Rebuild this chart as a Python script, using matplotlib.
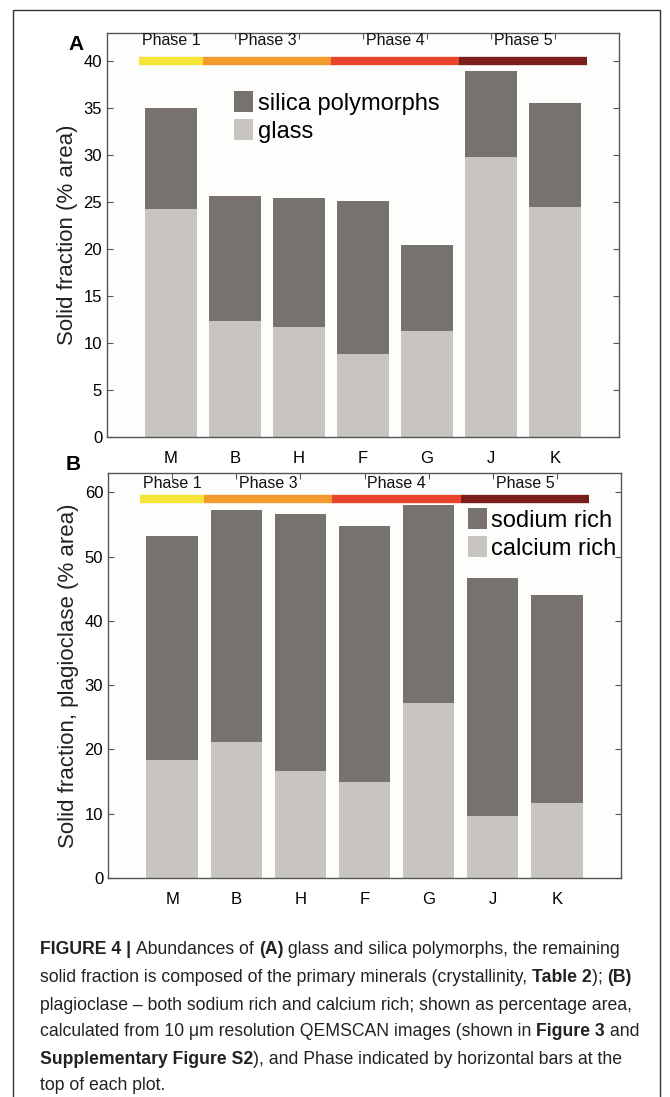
import numpy as np
import matplotlib.pyplot as plt
from matplotlib.patches import Rectangle

plt.rcParams['font.family'] = ['Liberation Sans', 'DejaVu Sans']

samples = ['M', 'B', 'H', 'F', 'G', 'J', 'K']

# panel A: glass + silica polymorphs (total height)
glass = [24.3, 12.3, 11.7, 8.8, 11.3, 29.8, 24.5]
silica_top = [35.0, 25.7, 25.4, 25.1, 20.4, 39.0, 35.6]

# panel B: calcium rich + sodium rich (total height)
calcium = [18.3, 21.1, 16.7, 14.9, 27.2, 9.7, 11.7]
plag_top = [53.2, 57.3, 56.7, 54.7, 58.0, 46.7, 44.0]

phases = ['Phase 1', 'Phase 3', 'Phase 4', 'Phase 5']
phase_start = [0.5, 1.5, 3.5, 5.5]
phase_end = [1.5, 3.5, 5.5, 7.5]
phase_mid = [1.0, 2.5, 4.5, 6.5]
phase_cols = ['#f6e437', '#f3992e', '#e8442c', '#7a1e1b']

dark = '#77726e'
light = '#c8c5c1'
spine = '#555555'

fig = plt.figure(figsize=(6.7, 10.97), dpi=100)
fig.patch.set_facecolor('white')

# outer frame
fig.patches.append(Rectangle((13/670, -0.01), (660-13)/670, (1097-10)/1097 + 0.01,
                             transform=fig.transFigure, fill=False,
                             edgecolor='#333333', linewidth=1.0))

def panel(rect, base, top, ymax, yticks, ylabel, band_y, text_y):
    ax = fig.add_axes(rect)
    ax.set_facecolor('#fdfdfb')
    x = np.arange(1, len(samples) + 1)
    upper = np.array(top) - np.array(base)
    h1 = ax.bar(x, upper, 0.8, bottom=base, color=dark, zorder=2)
    h2 = ax.bar(x, base, 0.8, color=light, zorder=2)
    for s, e, c in zip(phase_start, phase_end, phase_cols):
        ax.plot([s, e], [band_y, band_y], color=c, linewidth=6, solid_capstyle='butt', zorder=3)
    for m, p in zip(phase_mid, phases):
        ax.text(m, text_y, p, ha='center', va='center', fontsize=11.5, color='#111111')
    ax.set_xlim(0, 8)
    ax.set_ylim(0, ymax)
    ax.set_xticks(x)
    ax.set_xticklabels(samples, fontsize=11.5)
    ax.set_yticks(yticks)
    ax.tick_params(axis='both', direction='in', top=True, right=True, length=4,
                   color=spine, labelsize=12, width=0.8)
    ax.tick_params(axis='x', pad=10)
    for sp in ax.spines.values():
        sp.set_color(spine)
        sp.set_linewidth(1.0)
    ax.set_ylabel(ylabel, fontsize=16, color='#222222', labelpad=4)
    return ax, h1, h2

axA, a1, a2 = panel([107/670, (1097-437)/1097, 512/670, 404/1097],
                    glass, silica_top, 43, np.arange(0, 41, 5),
                    'Solid fraction (% area)', 40, 42.2)
axA.legend([a1, a2], ['silica polymorphs', 'glass'], loc='upper left',
           bbox_to_anchor=(0.23, 0.88), frameon=False, fontsize=17,
           handlelength=0.8, handleheight=1.0, handletextpad=0.2,
           labelspacing=0.2, borderaxespad=0)

axB, b1, b2 = panel([108/670, (1097-878)/1097, 513/670, 405/1097],
                    calcium, plag_top, 63, np.arange(0, 61, 10),
                    'Solid fraction, plagioclase (% area)', 58.9, 61.3)
axB.legend([b1, b2], ['sodium rich', 'calcium rich'], loc='upper right',
           bbox_to_anchor=(1.01, 0.937), frameon=False, fontsize=17,
           handlelength=0.8, handleheight=1.0, handletextpad=0.2,
           labelspacing=0.2, borderaxespad=0)

fig.text(68/670, 1 - 44/1097, 'A', fontsize=15, fontweight='bold', va='center')
fig.text(66/670, 1 - 464/1097, 'B', fontsize=15, fontweight='bold', va='center')

# caption with mixed bold pieces
caption = [
    [('FIGURE 4 | ', True), ('Abundances of ', False), ('(A)', True),
     (' glass and silica polymorphs, the remaining', False)],
    [('solid fraction is composed of the primary minerals (crystallinity, ', False),
     ('Table 2', True), ('); ', False), ('(B)', True)],
    [('plagioclase \u2013 both sodium rich and calcium rich; shown as percentage area,', False)],
    [('calculated from 10 \u03bcm resolution QEMSCAN images (shown in ', False),
     ('Figure 3', True), (' and', False)],
    [('Supplementary Figure S2', True),
     ('), and Phase indicated by horizontal bars at the', False)],
    [('top of each plot.', False)],
]
line_y = [950, 977, 1005, 1032, 1059, 1086]

fig.canvas.draw()
renderer = fig.canvas.get_renderer()
for pieces, yy in zip(caption, line_y):
    xpix = 40
    for txt, bold in pieces:
        t = fig.text(xpix/670, 1 - yy/1097, txt, fontsize=12.7,
                     fontweight='bold' if bold else 'normal',
                     color='#222222', va='center', ha='left')
        bb = t.get_window_extent(renderer=renderer)
        xpix += bb.width

fig.savefig('out.png', dpi=100)
